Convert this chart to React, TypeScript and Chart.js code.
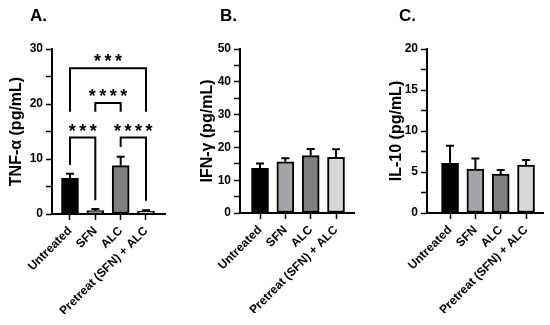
import React, { useEffect, useRef } from 'react';
import { Chart, registerables } from 'chart.js';

Chart.register(...registerables);

const FONT = 'Arial, "Liberation Sans", Helvetica, sans-serif';

const categories = ['Untreated', 'SFN', 'ALC', 'Pretreat (SFN) + ALC'];
const barColors = ['#000000', '#a4a4a8', '#808080', '#d7d7d7'];

// TNF-α (pg/mL)
const tnfMean = [6.5, 0.6, 8.8, 0.5];
const tnfSem = [0.8, 0.3, 1.6, 0.2];
// IFN-γ (pg/mL)
const ifnMean = [13.6, 15.6, 17.5, 17.0];
const ifnSem = [1.5, 1.1, 2.0, 2.4];
// IL-10 (pg/mL)
const il10Mean = [6.05, 5.35, 4.75, 5.85];
const il10Sem = [2.15, 1.3, 0.5, 0.6];

// significance brackets for panel A
const sigFrom = [0, 1, 0, 2];
const sigTo = [3, 2, 1, 3];
const sigHeight = [26.5, 20.2, 13.9, 13.9];
const sigLeftEnd = [18.6, 18.6, 8.9, 12.2];
const sigRightEnd = [18.6, 18.6, 2.5, 2.4];
const sigStars = ['***', '****', '***', '****'];

type PanelProps = {
  mean: number[];
  sem: number[];
  yMax: number;
  yStep: number;
  yLabelStep: number;
  yTitle: string;
  titleX: number;
  axisLeft: number;
  axisRight: number;
  axisTop: number;
  axisBottom: number;
  xMin: number;
  xMax: number;
  brackets?: boolean;
};

function Panel(p: PanelProps) {
  const ref = useRef<HTMLCanvasElement>(null);
  useEffect(() => {
    if (!ref.current) return;
    const padLeft = p.titleX - 9.6 - 4;
    const yWidth = p.axisLeft - padLeft;
    const xHeight = 100;
    const pad = {
      left: padLeft,
      right: 550 - p.axisRight,
      top: p.axisTop,
      bottom: 325 - p.axisBottom - xHeight,
    };
    const errorBars = {
      id: 'errorBars',
      afterDatasetsDraw(chart: any) {
        const ctx = chart.ctx;
        const meta = chart.getDatasetMeta(0);
        const ys = chart.scales.y;
        ctx.save();
        ctx.strokeStyle = '#000';
        ctx.lineWidth = 2;
        meta.data.forEach((el: any, i: number) => {
          const y0 = ys.getPixelForValue(p.mean[i]);
          const y1 = ys.getPixelForValue(p.mean[i] + p.sem[i]);
          ctx.beginPath();
          ctx.moveTo(el.x, y0);
          ctx.lineTo(el.x, y1);
          ctx.moveTo(el.x - 4, y1);
          ctx.lineTo(el.x + 4, y1);
          ctx.stroke();
        });
        ctx.restore();
      },
    };
    const sig = {
      id: 'sig',
      afterDatasetsDraw(chart: any) {
        if (!p.brackets) return;
        const ctx = chart.ctx;
        const xs = chart.scales.x;
        const ys = chart.scales.y;
        ctx.save();
        ctx.strokeStyle = '#000';
        ctx.fillStyle = '#000';
        ctx.lineWidth = 2;
        ctx.lineJoin = 'miter';
        ctx.font = `bold 18px ${FONT}`;
        ctx.textAlign = 'center';
        ctx.textBaseline = 'alphabetic';
        sigFrom.forEach((f, k) => {
          const x1 = xs.getPixelForValue(f);
          const x2 = xs.getPixelForValue(sigTo[k]);
          const yh = ys.getPixelForValue(sigHeight[k]);
          ctx.beginPath();
          ctx.moveTo(x1, ys.getPixelForValue(sigLeftEnd[k]));
          ctx.lineTo(x1, yh);
          ctx.lineTo(x2, yh);
          ctx.lineTo(x2, ys.getPixelForValue(sigRightEnd[k]));
          ctx.stroke();
          const n = sigStars[k].length;
          const cx = (x1 + x2) / 2;
          for (let j = 0; j < n; j++) {
            ctx.fillText('*', cx + (j - (n - 1) / 2) * 10.5, yh - 1);
          }
        });
        ctx.restore();
      },
    };
    const chart = new Chart(ref.current, {
      type: 'bar',
      data: {
        datasets: [
          {
            data: p.mean.map((v, i) => ({ x: i, y: v })),
            backgroundColor: barColors,
            borderColor: '#000',
            borderWidth: 2,
            borderSkipped: false,
            barThickness: 17,
          } as any,
        ],
      },
      options: {
        animation: false,
        responsive: false,
        events: [],
        layout: {
          autoPadding: false,
          padding: pad,
        } as any,
        plugins: { legend: { display: false }, tooltip: { enabled: false }, title: { display: false } },
        scales: {
          x: {
            type: 'linear',
            offset: false,
            min: p.xMin,
            max: p.xMax,
            afterBuildTicks: (s: any) => {
              s.ticks = categories.map((_, i) => ({ value: i }));
            },
            afterFit: (s: any) => {
              s.height = xHeight;
            },
            ticks: {
              autoSkip: false,
              minRotation: 45,
              maxRotation: 45,
              color: '#000',
              padding: 4,
              font: { family: FONT, size: 12, weight: 'bold' },
              callback: (v: any) => categories[Math.round(Number(v))] ?? '',
            },
            grid: {
              display: true,
              offset: false,
              drawOnChartArea: false,
              drawTicks: true,
              tickLength: 6,
              tickColor: '#000',
              tickWidth: 1.5,
            },
            border: { display: true, color: '#000', width: 2 },
          } as any,
          y: {
            type: 'linear',
            min: 0,
            max: p.yMax,
            afterBuildTicks: (s: any) => {
              const t = [];
              for (let v = 0; v <= p.yMax + 1e-9; v += p.yStep) t.push({ value: v });
              s.ticks = t;
            },
            afterFit: (s: any) => {
              s.width = yWidth;
            },
            ticks: {
              autoSkip: false,
              color: '#000',
              padding: 3,
              font: { family: FONT, size: 12, weight: 'bold' },
              callback: (v: any) => {
                const n = Number(v);
                return Math.abs(n / p.yLabelStep - Math.round(n / p.yLabelStep)) < 1e-6 ? String(n) : '';
              },
            },
            grid: {
              display: true,
              drawOnChartArea: false,
              drawTicks: true,
              tickLength: 6,
              tickColor: '#000',
              tickWidth: 1.5,
            },
            border: { display: true, color: '#000', width: 2 },
            title: {
              display: true,
              text: p.yTitle,
              color: '#000',
              padding: { top: 4, bottom: 4 },
              font: { family: FONT, size: 16, weight: 'bold' },
            },
          } as any,
        },
      },
      plugins: [errorBars, sig],
    });
    for (let it = 0; it < 2; it++) {
      const ca = chart.chartArea;
      const dl = p.axisLeft - ca.left;
      const dr = ca.right - p.axisRight;
      const dt = p.axisTop - ca.top;
      const db = ca.bottom - p.axisBottom;
      if (Math.abs(dl) + Math.abs(dr) + Math.abs(dt) + Math.abs(db) < 0.5) break;
      pad.left += dl;
      pad.right += dr;
      pad.top += dt;
      pad.bottom += db;
      (chart.options.layout as any).padding = { ...pad };
      chart.update();
    }
    return () => chart.destroy();
  }, []);
  return (
    <canvas
      ref={ref}
      width={550}
      height={325}
      style={{ position: 'absolute', left: 0, top: 0, width: 550, height: 325 }}
    />
  );
}

const letterStyle = (left: number): React.CSSProperties => ({
  position: 'absolute',
  left,
  top: 6,
  fontFamily: FONT,
  fontWeight: 'bold',
  fontSize: 17,
  lineHeight: '20px',
  color: '#000',
});

export default function App() {
  return (
    <div style={{ position: 'absolute', left: 0, top: 0, width: 550, height: 325, background: '#fff' }}>
      <Panel
        mean={tnfMean}
        sem={tnfSem}
        yMax={30}
        yStep={5}
        yLabelStep={10}
        yTitle="TNF-α (pg/mL)"
        titleX={17}
        axisLeft={52}
        axisRight={165}
        axisTop={49}
        axisBottom={214}
        xMin={-0.71}
        xMax={3.75}
        brackets
      />
      <Panel
        mean={ifnMean}
        sem={ifnSem}
        yMax={50}
        yStep={5}
        yLabelStep={10}
        yTitle="IFN-γ (pg/mL)"
        titleX={208}
        axisLeft={240}
        axisRight={354}
        axisTop={49}
        axisBottom={213}
        xMin={-0.79}
        xMax={3.71}
      />
      <Panel
        mean={il10Mean}
        sem={il10Sem}
        yMax={20}
        yStep={2.5}
        yLabelStep={5}
        yTitle="IL-10 (pg/mL)"
        titleX={397}
        axisLeft={427}
        axisRight={543}
        axisTop={49}
        axisBottom={213}
        xMin={-0.91}
        xMax={3.67}
      />
      <div style={letterStyle(30)}>A.</div>
      <div style={letterStyle(220)}>B.</div>
      <div style={letterStyle(399)}>C.</div>
    </div>
  );
}
